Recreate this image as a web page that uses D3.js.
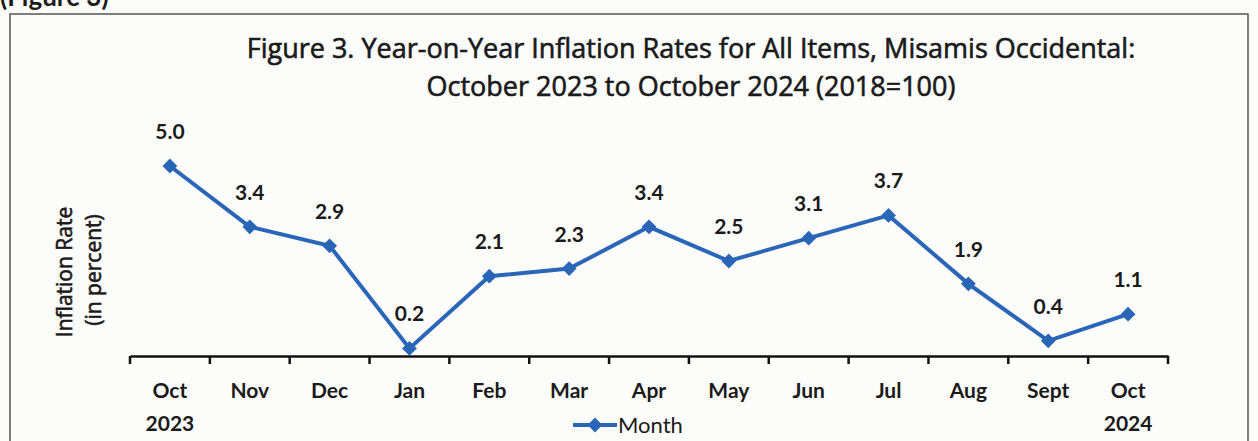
<!DOCTYPE html>
<html>
<head>
<meta charset="utf-8">
<script src="https://cdn.jsdelivr.net/npm/d3@7"></script>
<style>
  body { margin: 0; background: #fcfcfb; }
  text { font-family: Lato, "Open Sans", sans-serif; fill: #1a1a1a; }
  .title, .ylab { font-family: "Open Sans", Lato, sans-serif; stroke: #1a1a1a; stroke-width: 0.6px; }
</style>
</head>
<body>
<script>
// months on the axis (second row = year under the first and last)
var months = ["Oct", "Nov", "Dec", "Jan", "Feb", "Mar", "Apr", "May", "Jun", "Jul", "Aug", "Sept", "Oct"]
var years = ["2023", "", "", "", "", "", "", "", "", "", "", "", "2024"]
var rates = [5.0, 3.4, 2.9, 0.2, 2.1, 2.3, 3.4, 2.5, 3.1, 3.7, 1.9, 0.4, 1.1]

var titleLines = ["Figure 3. Year-on-Year Inflation Rates for All Items, Misamis Occidental:",
                  "October 2023 to October 2024 (2018=100)"]

var width = 1258, height = 441
var blue = "#2a66b8"

var svg = d3.select("body")
  .append("svg")
  .attr("width", width)
  .attr("height", height)

// cut-off heading from the page above
svg.append("text")
  .attr("x", 0).attr("y", 6)
  .attr("font-size", 26).attr("font-weight", 700)
  .text("(Figure 3)")

// frame
svg.append("rect")
  .attr("x", 10).attr("y", 14)
  .attr("width", 1238).attr("height", 440)
  .attr("fill", "none")
  .attr("stroke", "#555")
  .attr("stroke-width", 1.5)

// title
svg.selectAll(".title").data(titleLines).enter().append("text")
  .attr("class", "title")
  .attr("x", 691)
  .attr("y", function(d, i){ return 58 + i * 38; })
  .attr("text-anchor", "middle")
  .attr("font-size", 27)
  .text(function(d){ return d; })

var idx = d3.range(months.length)
var x = d3.scaleBand().domain(idx).range([130, 1168])
var y = d3.scaleLinear().domain([0, 5]).range([356, 166])

// x axis
var axis = d3.axisBottom(x)
  .tickSize(0)
  .tickFormat("")
var gx = svg.append("g")
  .attr("transform", "translate(0," + y(0) + ")")
  .call(axis)
gx.select(".domain").attr("stroke", "#111").attr("stroke-width", 2.5)

// tick marks at the band edges
var edges = idx.map(function(i){ return x(i); }).concat([x.range()[1]])
gx.selectAll(".edge").data(edges).enter().append("line")
  .attr("class", "edge")
  .attr("x1", function(d){ return d; })
  .attr("x2", function(d){ return d; })
  .attr("y1", 0).attr("y2", 8)
  .attr("stroke", "#111").attr("stroke-width", 2.5)

gx.selectAll(".m").data(idx).enter().append("text")
  .attr("class", "m")
  .attr("x", function(i){ return x(i) + x.bandwidth() / 2; })
  .attr("y", 42)
  .attr("text-anchor", "middle")
  .attr("font-size", 21).attr("font-weight", 700)
  .text(function(i){ return months[i]; })

gx.selectAll(".yr").data(idx).enter().append("text")
  .attr("class", "yr")
  .attr("x", function(i){ return x(i) + x.bandwidth() / 2; })
  .attr("y", 75)
  .attr("text-anchor", "middle")
  .attr("font-size", 21).attr("font-weight", 700)
  .text(function(i){ return years[i]; })

// y label
svg.append("text")
  .attr("class", "ylab")
  .attr("transform", "translate(72,272) rotate(-90)")
  .attr("text-anchor", "middle")
  .attr("font-size", 21)
  .text("Inflation Rate")
svg.append("text")
  .attr("class", "ylab")
  .attr("transform", "translate(101,270) rotate(-90)")
  .attr("text-anchor", "middle")
  .attr("font-size", 21)
  .text("(in percent)")

// line
var line = d3.line()
  .x(function(d, i){ return x(i) + x.bandwidth() / 2; })
  .y(function(d){ return y(d); })

svg.append("path")
  .datum(rates)
  .attr("d", line)
  .attr("fill", "none")
  .attr("stroke", blue)
  .attr("stroke-width", 4)

var diamond = d3.symbol().type(d3.symbolSquare).size(110)
svg.selectAll(".pt").data(rates).enter().append("path")
  .attr("class", "pt")
  .attr("d", diamond)
  .attr("transform", function(d, i){ return "translate(" + (x(i) + x.bandwidth() / 2) + "," + y(d) + ") rotate(45)"; })
  .attr("fill", blue)

svg.selectAll(".lbl").data(rates).enter().append("text")
  .attr("class", "lbl")
  .attr("x", function(d, i){ return x(i) + x.bandwidth() / 2; })
  .attr("y", function(d){ return y(d) - 27; })
  .attr("text-anchor", "middle")
  .attr("font-size", 21).attr("font-weight", 700)
  .text(function(d){ return d.toFixed(1); })

// legend
var lg = svg.append("g").attr("transform", "translate(573,425)")
lg.append("line")
  .attr("x1", 0).attr("x2", 44).attr("y1", 0).attr("y2", 0)
  .attr("stroke", blue).attr("stroke-width", 4)
lg.append("path")
  .attr("d", diamond)
  .attr("transform", "translate(22,0) rotate(45)")
  .attr("fill", blue)
lg.append("text")
  .attr("x", 45).attr("y", 8)
  .attr("font-size", 22)
  .text("Month")
</script>
</body>
</html>
